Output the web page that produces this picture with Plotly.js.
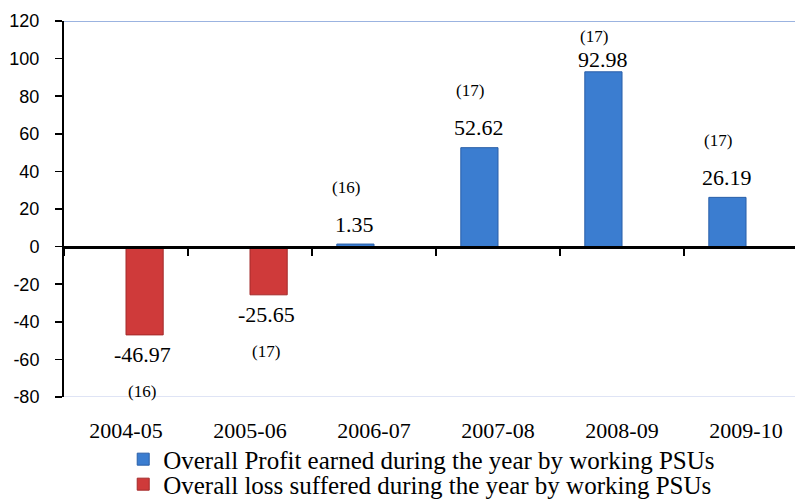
<!DOCTYPE html>
<html>
<head>
<meta charset="utf-8">
<script src="https://cdn.plot.ly/plotly-3.0.1.min.js"></script>
<style>html,body{margin:0;padding:0;background:#fff;}#chart{width:795px;height:499px;}</style>
</head>
<body>
<div id="chart"></div>
<script>
const years = ["2004-05", "2005-06", "2006-07", "2007-08", "2008-09", "2009-10"];
const profit = [null, null, 1.35, 52.62, 92.98, 26.19];
const loss = [-46.97, -25.65, null, null, null, null];
const psuCounts = [16, 17, 16, 17, 17, 17];
const profitName = "Overall Profit earned during the year by working PSUs";
const lossName = "Overall loss suffered during the year by working PSUs";
const yTicks = [-80, -60, -40, -20, 0, 20, 40, 60, 80, 100, 120];

const serif = "Liberation Serif, Times New Roman, serif";
const sans = "Liberation Sans, Arial, sans-serif";

const traces = [
  {
    type: "bar", x: years, y: profit, name: profitName,
    marker: {color: "#3b7dd0", line: {color: "#2a5fa8", width: 1}},
    legend: "legend"
  },
  {
    type: "bar", x: years, y: loss, name: lossName,
    marker: {color: "#cf3a3a", line: {color: "#a32a2a", width: 1}},
    legend: "legend2"
  }
];

// value labels and PSU-count labels, placed relative to each bar's end
const annotations = [];
years.forEach((yr, i) => {
  const isProfit = profit[i] !== null;
  const v = isProfit ? profit[i] : loss[i];
  const up = v >= 0;
  const nearTop = up && v > 80;
  const barShift = isProfit ? -18 : 18;
  const valGap = nearTop ? 12 : 20;
  const cntGap = nearTop ? 35 : 57;
  annotations.push({
    x: yr, y: v, xref: "x", yref: "y",
    xshift: barShift - 1.5, yshift: up ? valGap : -valGap,
    yanchor: "middle",
    text: v.toFixed(2), showarrow: false,
    font: {family: serif, size: 22, color: "#000"}
  });
  annotations.push({
    x: yr, y: v, xref: "x", yref: "y",
    xshift: up ? -28 : 16,
    yshift: up ? cntGap : -cntGap,
    yanchor: "middle",
    text: "(" + psuCounts[i] + ")", showarrow: false,
    font: {family: serif, size: 17, color: "#000"}
  });
});

const layout = {
  width: 795, height: 499,
  margin: {l: 64, r: 0, t: 21, b: 102, autoexpand: false},
  paper_bgcolor: "#fff", plot_bgcolor: "#fff",
  barmode: "group", bargap: 0.4, bargroupgap: 0,
  showlegend: true,
  xaxis: {
    type: "category", range: [-0.5, 5.395],
    anchor: "free", position: 0.4, automargin: false,
    showline: true, linecolor: "#000", linewidth: 3,
    ticks: "outside", tickson: "boundaries", ticklen: 7, tickwidth: 2, tickcolor: "#000",
    ticklabelstandoff: 163, tickangle: 0,
    tickfont: {family: serif, size: 22, color: "#000"},
    showgrid: false, zeroline: false, fixedrange: true
  },
  yaxis: {
    range: [-80, 120], tickvals: yTicks, ticktext: yTicks.map(String),
    showline: true, linecolor: "#000", linewidth: 2, automargin: false,
    ticks: "outside", ticklen: 7, tickwidth: 1.5, tickcolor: "#000",
    ticklabelstandoff: 12,
    tickfont: {family: sans, size: 18, color: "#000"},
    showgrid: false, zeroline: false, fixedrange: true
  },
  shapes: [
    {type: "line", xref: "paper", yref: "y", x0: 0, x1: 1, y0: 120, y1: 120, line: {color: "#9bb3e0", width: 2}},
    {type: "line", xref: "paper", yref: "y", x0: 0, x1: 1, y0: -80, y1: -80, line: {color: "#dfe4f5", width: 2}}
  ],
  legend: {
    x: 0.081, xanchor: "left", y: -0.166, yanchor: "middle",
    font: {family: serif, size: 25, color: "#000"}, bgcolor: "rgba(0,0,0,0)"
  },
  legend2: {
    x: 0.081, xanchor: "left", y: -0.2325, yanchor: "middle",
    font: {family: serif, size: 25, color: "#000"}, bgcolor: "rgba(0,0,0,0)"
  },
  annotations: annotations
};

Plotly.newPlot("chart", traces, layout, {displayModeBar: false, staticPlot: true});
</script>
</body>
</html>
